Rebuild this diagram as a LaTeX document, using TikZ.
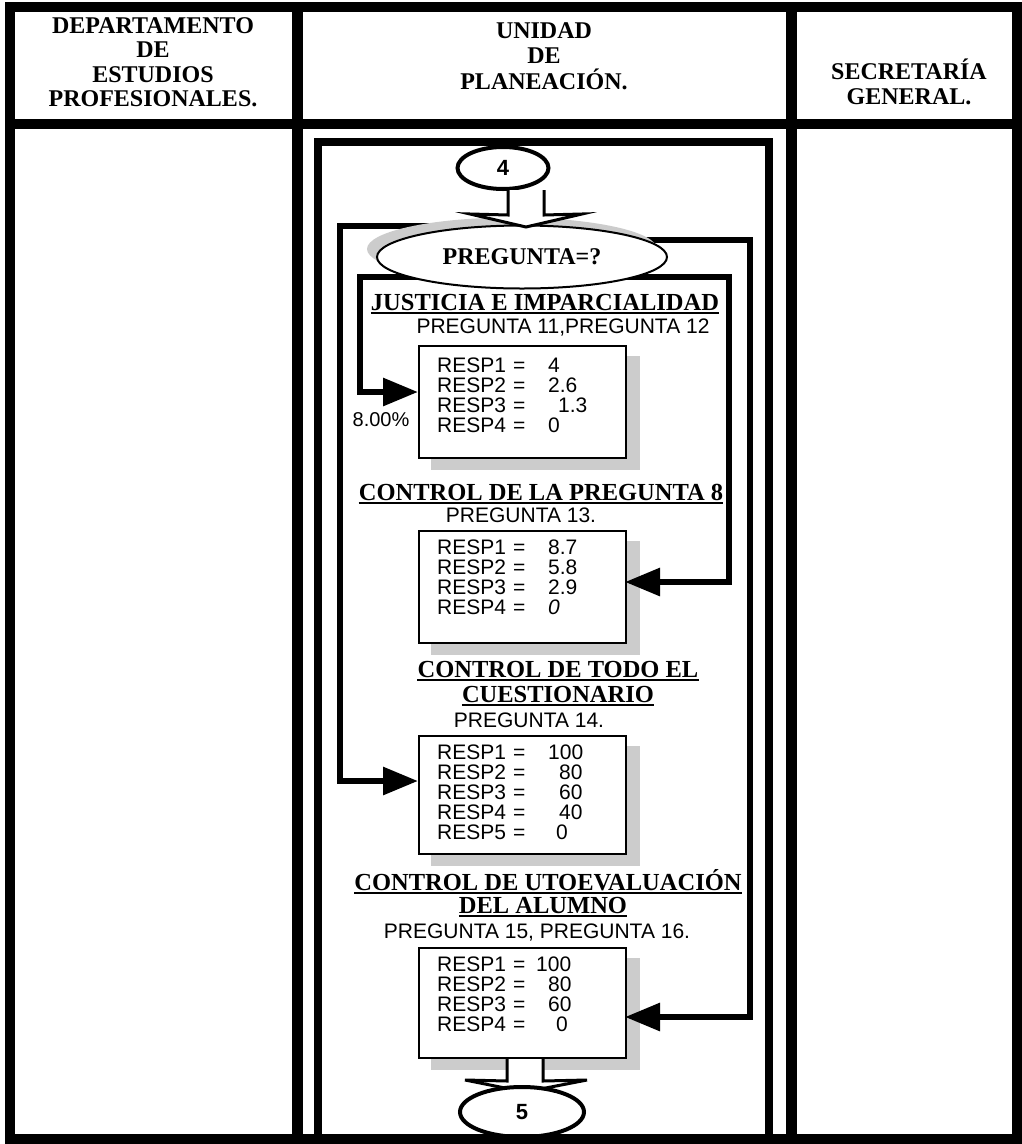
\documentclass[tikz,border=0pt]{standalone}
\usepackage{fontspec}
\setmainfont{Liberation Serif}
\setsansfont{Liberation Sans}
\usetikzlibrary{shapes.geometric,arrows.meta}
\pgfdeclarelayer{boxshadow}
\pgfdeclarelayer{conns}
\pgfdeclarelayer{ellshadow}
\pgfsetlayers{boxshadow,conns,ellshadow,main}
\newcommand\rline[3]{\makebox[76pt][l]{#1}\makebox[#2pt][l]{=}#3}
\begin{document}
\begin{tikzpicture}[x=1pt,y=-1pt,
  hdr/.style={font=\bfseries, align=center, inner sep=0},
  ttl/.style={font=\fontsize{24.5}{24}\selectfont\bfseries, inner sep=0, anchor=base},
  sub/.style={font=\fontsize{21}{21}\selectfont\sffamily, inner sep=0, anchor=base},
  resp/.style={font=\fontsize{21}{20}\selectfont\sffamily, inner sep=0, anchor=north west, align=left},
  rbox/.style={draw, line width=2pt, fill=white, inner sep=0, minimum width=207pt, anchor=north west},
  conn/.style={line width=6pt, line join=miter, -{Triangle[length=35pt,width=27pt]}},
  term/.style={draw, ellipse, line width=4pt, fill=white, inner sep=0, font=\fontsize{22}{22}\selectfont\sffamily\bfseries},
  blk/.style={draw, line width=3pt, fill=white, line join=miter},
  uline/.style={line width=2pt},
  shade/.style={fill=gray!40, draw=none}
]
\useasboundingbox (0,0) rectangle (1022,1144);

% frame and swimlanes
\draw[line width=10pt] (10,124) -- (1017,124);
\draw[line width=11pt] (297,7) -- (297,1139);
\draw[line width=11pt] (791,7) -- (791,1139);
\draw[line width=8pt, line join=miter] (318,1139) -- (318,142) -- (769,142) -- (769,1139);
\draw[line width=10pt] (10,7) rectangle (1017,1139);

% headers
\node[hdr, font=\fontsize{24}{24.5}\selectfont\bfseries] (h1) at (153,62) {DEPARTAMENTO\\DE\\ESTUDIOS\\PROFESIONALES.};
\node[hdr, font=\fontsize{24}{25.5}\selectfont\bfseries] (h2) at (544,56) {UNIDAD\\DE\\PLANEACIÓN.};
\node[hdr, font=\fontsize{24}{25}\selectfont\bfseries] (h3) at (909,82) {SECRETARÍA\\GENERAL.};

% terminals and decision
\node[term, minimum width=91pt, minimum height=42pt] (e4) at (503,168) {4};
\node[draw, ellipse, line width=2pt, fill=white, inner sep=0, minimum width=290pt, minimum height=63pt,
      font=\fontsize{24}{24}\selectfont\bfseries] (preg) at (522,257) {PREGUNTA=?};
\begin{pgfonlayer}{ellshadow}
\fill[shade] ([shift={(-10,-8)}]preg.center) ellipse [x radius=145pt, y radius=31.5pt];
\end{pgfonlayer}
\draw[blk] (508,190) -- (508,215) -- (470,214) -- (526,227) -- (582,214) -- (544,215) -- (544,190);

% titles
\node[ttl] (t1) at (545,310) {JUSTICIA E IMPARCIALIDAD};
\draw[uline] ([yshift=-3pt]t1.base west) -- ([yshift=-3pt]t1.base east);
\node[sub] (q1) at (563,333) {PREGUNTA 11,PREGUNTA 12};

\node[ttl] (t2) at (541,500) {CONTROL DE LA PREGUNTA 8};
\draw[uline] ([yshift=-3pt]t2.base west) -- ([yshift=-3pt]t2.base east);
\node[sub] (q2) at (521,522) {PREGUNTA 13.};

\node[ttl] (t3a) at (558,677) {CONTROL DE TODO EL};
\draw[uline] ([yshift=-3pt]t3a.base west) -- ([yshift=-3pt]t3a.base east);
\node[ttl] (t3b) at (558,702) {CUESTIONARIO};
\draw[uline] ([yshift=-3pt]t3b.base west) -- ([yshift=-3pt]t3b.base east);
\node[sub] (q3) at (529,727) {PREGUNTA 14.};

\node[ttl] (t4a) at (548,890) {CONTROL DE UTOEVALUACIÓN};
\draw[uline] ([yshift=-3pt]t4a.base west) -- ([yshift=-3pt]t4a.base east);
\node[ttl] (t4b) at (543,913) {DEL ALUMNO};
\draw[uline] ([yshift=-3pt]t4b.base west) -- ([yshift=-3pt]t4b.base east);
\node[sub] (q4) at (537,938) {PREGUNTA 15, PREGUNTA 16.};

% boxes
\node[rbox, minimum height=112pt] (b1) at (418,345) {};
\node[rbox, minimum height=112pt] (b2) at (418,530) {};
\node[rbox, minimum height=118pt] (b3) at (418,735) {};
\node[rbox, minimum height=110pt] (b4) at (418,947) {};
\begin{pgfonlayer}{boxshadow}
\foreach \b in {b1,b2,b3,b4}
  \fill[shade] ([shift={(13,11)}]\b.north west) rectangle ([shift={(13,11)}]\b.south east);
\end{pgfonlayer}

\node[resp] (r1) at (437,358) {\rline{RESP1}{35}{4}\\ \rline{RESP2}{35}{2.6}\\ \rline{RESP3}{45}{1.3}\\ \rline{RESP4}{35}{0}};
\node[resp] (r2) at (437,540) {\rline{RESP1}{35}{8.7}\\ \rline{RESP2}{35}{5.8}\\ \rline{RESP3}{35}{2.9}\\ \rline{RESP4}{35}{\textit{0}}};
\node[resp] (r3) at (437,745) {\rline{RESP1}{35}{100}\\ \rline{RESP2}{46}{80}\\ \rline{RESP3}{46}{60}\\ \rline{RESP4}{46}{40}\\ \rline{RESP5}{43}{0}};
\node[resp] (r4) at (437,957) {\rline{RESP1}{23}{100}\\ \rline{RESP2}{35}{80}\\ \rline{RESP3}{35}{60}\\ \rline{RESP4}{43}{0}};

\node[font=\fontsize{20}{20}\selectfont\sffamily, inner sep=0] (pct) at (381,420) {8.00\%};

% connector corners and entry points
\coordinate (c1) at (340,226);
\coordinate (c2) at (360,277);
\coordinate (c3) at (729,277);
\coordinate (c4) at (750,240);
\coordinate (b1in) at (418,392);
\coordinate (b2in) at (625,582);
\coordinate (b3in) at (418,781);
\coordinate (b4in) at (625,1017);

\begin{pgfonlayer}{conns}
\draw[conn] (preg.center |- c1) -- (c1) -- (c1 |- b3in) -- (b3in);
\draw[conn] (preg.center |- c2) -- (c2) -- (c2 |- b1in) -- (b1in);
\draw[conn] (preg.center |- c3) -- (c3) -- (c3 |- b2in) -- (b2in);
\draw[conn] (preg.center |- c4) -- (c4) -- (c4 |- b4in) -- (b4in);
\end{pgfonlayer}

% bottom terminal
\draw[blk] (507,1059) -- (507,1081) -- (465,1080) -- (525,1092) -- (587,1080) -- (543,1081) -- (543,1059);
\node[term, minimum width=124pt, minimum height=50pt] (e5) at (522,1112) {5};
\draw[line width=10pt] (10,1139) -- (1017,1139);
\end{tikzpicture}
\end{document}
